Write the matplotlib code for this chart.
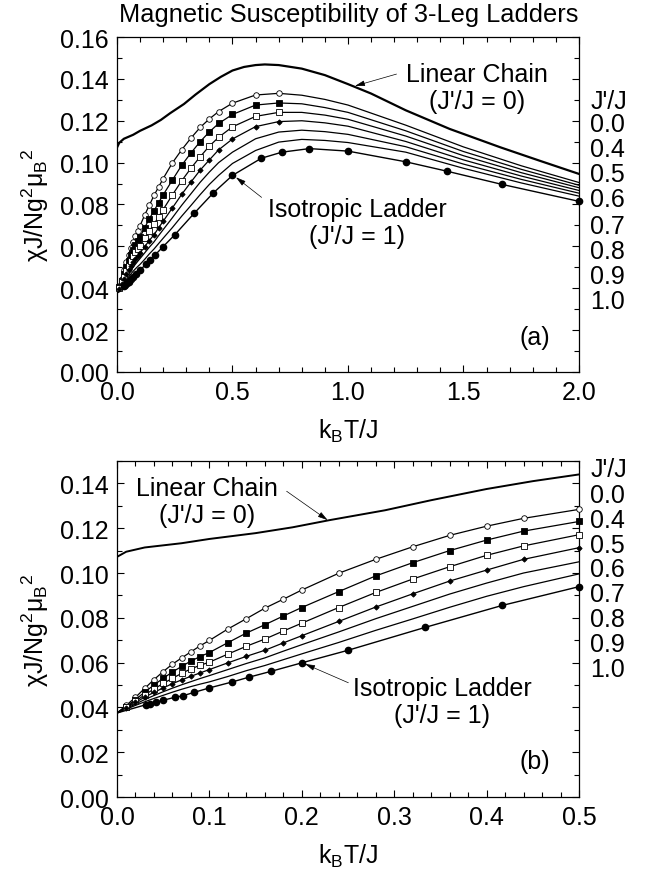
import matplotlib
matplotlib.use("Agg")
import matplotlib.pyplot as plt
import numpy as np

plt.rcParams["font.family"] = ["Liberation Sans", "DejaVu Sans"]
plt.rcParams["mathtext.default"] = "regular"

# ── data (chi J / N g^2 mu_B^2 vs k_B T / J) ──
T_GRID = [0.00, 0.01, 0.02, 0.03, 0.04, 0.05, 0.06, 0.07, 0.08, 0.09, 0.10,
          0.12, 0.14, 0.16, 0.18, 0.20, 0.24, 0.28, 0.32, 0.36, 0.40, 0.44,
          0.50, 0.60, 0.70, 0.80, 0.90, 1.00, 1.25, 1.50, 1.75, 2.00]

chi_04 = [0.0375, 0.0409, 0.0445, 0.0485, 0.0524, 0.0560, 0.0593, 0.0621, 0.0648, 0.0675, 0.0699,
          0.0750, 0.0796, 0.0843, 0.0883, 0.0924, 0.0999, 0.1061, 0.1117, 0.1168, 0.1209, 0.1244,
          0.1284, 0.1323, 0.1331, 0.1322, 0.1302, 0.1275, 0.1179, 0.1075, 0.0985, 0.0905]
chi_05 = [0.0375, 0.0404, 0.0435, 0.0468, 0.0500, 0.0530, 0.0558, 0.0583, 0.0607, 0.0627, 0.0645,
          0.0689, 0.0732, 0.0769, 0.0808, 0.0846, 0.0917, 0.0987, 0.1046, 0.1100, 0.1147, 0.1187,
          0.1230, 0.1275, 0.1285, 0.1281, 0.1263, 0.1240, 0.1152, 0.1053, 0.0968, 0.0892]
chi_06 = [0.0375, 0.0400, 0.0428, 0.0456, 0.0482, 0.0507, 0.0530, 0.0552, 0.0572, 0.0588, 0.0602,
          0.0638, 0.0673, 0.0705, 0.0741, 0.0776, 0.0846, 0.0913, 0.0973, 0.1028, 0.1079, 0.1121,
          0.1171, 0.1221, 0.1240, 0.1240, 0.1227, 0.1207, 0.1127, 0.1033, 0.0952, 0.0880]
chi_07 = [0.0375, 0.0397, 0.0422, 0.0446, 0.0467, 0.0487, 0.0506, 0.0523, 0.0539, 0.0554, 0.0569,
          0.0599, 0.0628, 0.0655, 0.0688, 0.0720, 0.0784, 0.0848, 0.0907, 0.0964, 0.1013, 0.1061,
          0.1113, 0.1172, 0.1196, 0.1200, 0.1190, 0.1174, 0.1101, 0.1013, 0.0936, 0.0867]
chi_08 = [0.0375, 0.0394, 0.0415, 0.0435, 0.0453, 0.0470, 0.0486, 0.0501, 0.0515, 0.0529, 0.0542,
          0.0569, 0.0596, 0.0621, 0.0651, 0.0680, 0.0737, 0.0796, 0.0851, 0.0906, 0.0955, 0.1000,
          0.1050, 0.1114, 0.1146, 0.1155, 0.1148, 0.1135, 0.1076, 0.0993, 0.0920, 0.0854]
chi_09 = [0.0375, 0.0392, 0.0409, 0.0425, 0.0440, 0.0454, 0.0468, 0.0481, 0.0493, 0.0504, 0.0514,
          0.0538, 0.0564, 0.0587, 0.0613, 0.0639, 0.0690, 0.0744, 0.0795, 0.0847, 0.0896, 0.0939,
          0.0996, 0.1058, 0.1098, 0.1111, 0.1106, 0.1096, 0.1050, 0.0973, 0.0903, 0.0840]

# isotropic ladder (J'/J = 1) sampled at its own temperatures
T_10 = [0.0, 0.03125, 0.0357, 0.0417, 0.05, 0.0625, 0.0714, 0.0833, 0.100, 0.125, 0.1429,
        0.1667, 0.200, 0.250, 0.3333, 0.4167, 0.500, 0.625, 0.7143, 0.8333, 1.000, 1.250,
        1.4286, 1.6667, 2.000]
chi_10 = [0.0375, 0.0412, 0.0417, 0.0423, 0.0432, 0.0445, 0.0452, 0.0467, 0.0487, 0.0514, 0.0535,
          0.0561, 0.0599, 0.0655, 0.0757, 0.0855, 0.0939, 0.1021, 0.1050, 0.1067, 0.1055, 0.1004,
          0.0959, 0.0896, 0.0815]

# linear chain (J'/J = 0)
T_CHAIN = [0.00, 0.01, 0.03, 0.07, 0.10, 0.15, 0.19, 0.23, 0.29, 0.34, 0.40, 0.45, 0.50,
           0.55, 0.60, 0.64, 0.70, 0.80, 0.90, 1.00, 1.10, 1.25, 1.44, 1.66, 1.83, 2.00]
chi_chain = [0.1072, 0.1095, 0.1114, 0.1133, 0.1152, 0.1178, 0.1204, 0.1236, 0.1280, 0.1325,
             0.1375, 0.1410, 0.1440, 0.1457, 0.1466, 0.1469, 0.1466, 0.1449, 0.1418, 0.1375,
             0.1330, 0.1250, 0.1161, 0.1073, 0.1009, 0.0946]

RATIO_LABELS = ["J'/J", "0.0", "0.4", "0.5", "0.6", "0.7", "0.8", "0.9", "1.0"]

# (values, marker, filled)
LADDERS = [
    (chi_04, "o", False),
    (chi_05, "s", True),
    (chi_06, "s", False),
    (chi_07, "D", True),
    (chi_08, None, False),
    (chi_09, None, False),
]
MARK_TMAX = 0.70   # symbols on the 0.4-0.7 curves stop here

FS = 18
fig = plt.figure(figsize=(6.47, 8.78), dpi=100)
ax_a = fig.add_axes([0.1808, 0.5752, 0.7141, 0.3815])
ax_b = fig.add_axes([0.1808, 0.0911, 0.7141, 0.3827])


def draw_panel(ax, xmax, ymax, chain_lw):
    t = np.array(T_GRID)
    for vals, mk, filled in LADDERS:
        v = np.array(vals)
        ax.plot(t, v, color="black", lw=0.9, zorder=2)
        if mk is None:
            continue
        sel = (t > 0) & (t <= min(MARK_TMAX, xmax) + 1e-9)
        size = 2.7 if mk == "D" else 4.0
        ax.plot(t[sel], v[sel], ls="none", marker=mk, ms=size,
                mfc="black" if filled else "white", mec="black", mew=0.6,
                clip_on=False, zorder=3)
    t10 = np.array(T_10)
    c10 = np.array(chi_10)
    ax.plot(t10, c10, color="black", lw=1.0, zorder=2)
    sel = (t10 > 0) & (t10 <= xmax + 1e-9)
    ax.plot(t10[sel], c10[sel], ls="none", marker="o", ms=4.5,
            mfc="black", mec="black", clip_on=False, zorder=3)
    ax.plot(T_CHAIN, chi_chain, color="black", lw=chain_lw, zorder=2)
    ax.set_xlim(0, xmax)
    ax.set_ylim(0, ymax)
    ax.tick_params(which="both", direction="in", top=True, right=True,
                   labelsize=FS, width=0.8, pad=6)
    ax.tick_params(which="major", length=5)
    ax.tick_params(which="minor", length=3.5)
    for sp in ax.spines.values():
        sp.set_linewidth(0.9)
    ax.set_xlabel("k$_B$T/J", fontsize=FS, labelpad=9)
    ax.set_ylabel("χJ/Ng$^2$μ$_B$$^2$", fontsize=FS, labelpad=6)


arrow = dict(arrowstyle="-|>,head_length=0.6,head_width=0.17", color="black",
             lw=0.5, shrinkA=0, shrinkB=0)

# ── (a) full range ──
draw_panel(ax_a, 2.0, 0.16, 1.6)
ax_a.set_xticks(np.arange(0, 2.01, 0.5))
ax_a.set_xticks(np.arange(0, 2.01, 0.1), minor=True)
ax_a.set_yticks(np.arange(0, 0.161, 0.02))
ax_a.set_yticks(np.arange(0, 0.161, 0.01), minor=True)
ax_a.xaxis.set_major_formatter(matplotlib.ticker.FormatStrFormatter("%.1f"))
ax_a.yaxis.set_major_formatter(matplotlib.ticker.FormatStrFormatter("%.2f"))
ax_a.text(1.56, 0.1357, "Linear Chain\n(J'/J = 0)", fontsize=FS, ha="center",
          va="center", linespacing=1.15)
ax_a.annotate("", xy=(1.03, 0.1366), xytext=(1.21, 0.1423), arrowprops=arrow)
ax_a.text(1.04, 0.0716, "Isotropic Ladder\n(J'/J = 1)", fontsize=FS, ha="center",
          va="center", linespacing=1.15)
ax_a.annotate("", xy=(0.515, 0.0930), xytext=(0.626, 0.0834), arrowprops=arrow)
ax_a.text(1.81, 0.0167, "(a)", fontsize=FS, ha="center", va="center")
ya = [0.810, 0.740, 0.666, 0.591, 0.516, 0.437, 0.362, 0.287, 0.213]
for lab, y in zip(RATIO_LABELS, ya):
    ax_a.text(1.024, y, lab, transform=ax_a.transAxes, fontsize=FS,
              ha="left", va="center")

# ── (b) low temperature ──
draw_panel(ax_b, 0.5, 0.15, 1.4)
ax_b.set_xticks(np.arange(0, 0.501, 0.1))
ax_b.set_xticks(np.arange(0, 0.501, 0.02), minor=True)
ax_b.set_yticks(np.arange(0, 0.141, 0.02))
ax_b.set_yticks(np.arange(0, 0.151, 0.01), minor=True)
ax_b.xaxis.set_major_formatter(matplotlib.ticker.FormatStrFormatter("%.1f"))
ax_b.yaxis.set_major_formatter(matplotlib.ticker.FormatStrFormatter("%.2f"))
ax_b.text(0.0974, 0.1318, "Linear Chain\n(J'/J = 0)", fontsize=FS, ha="center",
          va="center", linespacing=1.15)
ax_b.annotate("", xy=(0.228, 0.1236), xytext=(0.1836, 0.1365), arrowprops=arrow)
ax_b.text(0.352, 0.0428, "Isotropic Ladder\n(J'/J = 1)", fontsize=FS, ha="center",
          va="center", linespacing=1.15)
ax_b.annotate("", xy=(0.2035, 0.0594), xytext=(0.2504, 0.0510), arrowprops=arrow)
ax_b.text(0.452, 0.016, "(b)", fontsize=FS, ha="center", va="center")
yb = [0.976, 0.899, 0.824, 0.750, 0.679, 0.604, 0.530, 0.455, 0.381]
for lab, y in zip(RATIO_LABELS, yb):
    ax_b.text(1.024, y, lab, transform=ax_b.transAxes, fontsize=FS,
              ha="left", va="center")

fig.text(0.5387, 0.983, "Magnetic Susceptibility of 3-Leg Ladders",
         fontsize=18.3, ha="center", va="center")

fig.savefig("out.png", dpi=100)
